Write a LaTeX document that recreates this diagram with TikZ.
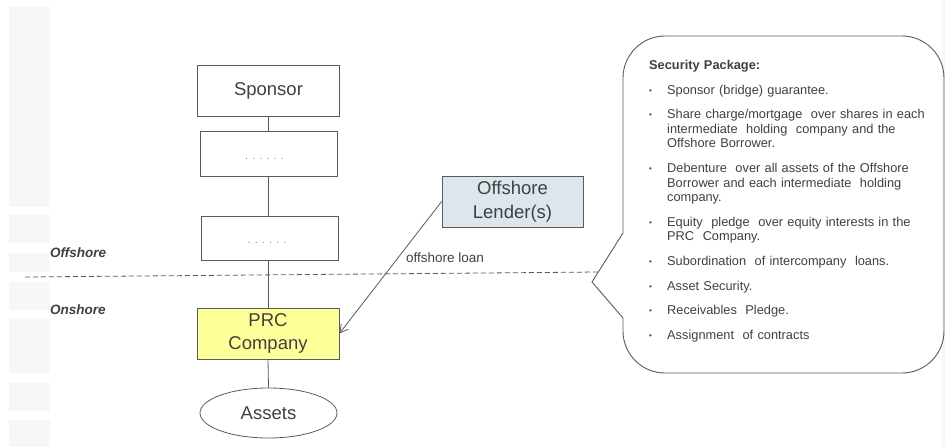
\documentclass[tikz,border=0pt]{standalone}
\usepackage{fontspec}
\setmainfont{Liberation Sans}
\usetikzlibrary{shapes.geometric,arrows.meta}

\definecolor{ink}{HTML}{404040}
\definecolor{edge}{HTML}{5A5A5A}
\definecolor{prcfill}{HTML}{FFFF99}
\definecolor{lenderfill}{HTML}{DCE6EC}
\definecolor{stripgray}{HTML}{F7F7F7}
\definecolor{dotgray}{HTML}{8A8A8A}

% one bulleted entry of the security list, with a hanging indent
\newcommand\pkgitem[1]{\par\hangindent=18pt\hangafter=1\noindent
  \makebox[18pt][l]{\raisebox{1pt}{\fontsize{8}{8}\selectfont\textbullet}}#1}
% line break that keeps the hanging indent of the entry
\newcommand\nl{\hfil\break}

\begin{document}
\begin{tikzpicture}[x=1pt,y=-1pt,
  entity/.style={draw=edge, line width=0.8pt, inner sep=0pt, text=ink,
    align=center, font=\fontsize{18.5}{23.5}\selectfont},
  filler/.style={font=\fontsize{11}{11}\selectfont, text=dotgray, inner sep=0pt},
  link/.style={draw=edge, line width=0.8pt},
  loan/.style={draw=edge, line width=0.8pt, -{Straight Barb[length=8pt,width=9pt]}},
  zone/.style={font=\fontsize{13.5}{13.5}\selectfont\bfseries\itshape, text=ink,
    inner sep=0pt, anchor=west},
  bubble/.style={draw=edge, line width=0.9pt},
  pkgtext/.style={text=ink, inner sep=0pt, anchor=north west, text width=290pt,
    font=\fontsize{12.8}{14.6}\selectfont, execute at begin node={\setlength{\parskip}{10pt}}}
]
\useasboundingbox (0,0) rectangle (945,447);

% pale page strips along the edges
\foreach \ya/\yb in {7/207, 215/243, 253/272, 282/310, 318/373, 383/411, 420/447}
  \fill[stripgray] (9,\ya) rectangle (50,\yb);
\fill[stripgray] (942,0) rectangle (945,447);

% ownership chain
\node[entity, minimum width=142pt, minimum height=51pt] (sponsor) at (268.5,90.5) {Sponsor};
\node[entity, minimum width=137pt, minimum height=45pt] (mid1) at (268.5,153.5) {};
\node[entity, minimum width=137pt, minimum height=44pt] (mid2) at (270,238) {};
\node[entity, minimum width=142pt, minimum height=51pt, fill=prcfill] (prc) at (268,333.5) {PRC\\Company};
\node[entity, ellipse, minimum width=137pt, minimum height=50pt] (assets) at (268.5,413) {Assets};

\node[filler] (dots1) at ([xshift=-4pt,yshift=-5pt]mid1.center) {. . . . . .};
\node[filler] (dots2) at ([xshift=-3pt,yshift=-5pt]mid2.center) {. . . . . .};

\draw[link] (sponsor.south) -- (sponsor.south |- mid1.north);
\draw[link] (mid1.south) -- (mid1.south |- mid2.north);
\draw[link] (mid1.south |- mid2.south) -- (mid1.south |- prc.north);
\draw[link] (prc.south) -- (assets.north);

% lender and loan
\node[entity, minimum width=141pt, minimum height=51pt, fill=lenderfill] (lender) at (512.5,201.5) {Offshore\\Lender(s)};
\draw[loan] (lender.west) -- (prc.east);
\node[text=ink, inner sep=0pt, font=\fontsize{13.5}{13.5}\selectfont] (loanlbl) at (445,258) {offshore loan};

% offshore / onshore divide
\node[zone] (offlbl) at (50,253) {Offshore};
\node[zone] (onlbl) at (50,310) {Onshore};

% security package call-out
\coordinate (ptop) at (623,233);
\coordinate (pbot) at (623,318);
\coordinate (tip) at (592,282);
\coordinate (divL) at (25,277);
\coordinate (divR) at (598,272);
\draw[edge, line width=0.8pt, dash pattern=on 5pt off 3pt] (divL) -- (divR);
\draw[bubble, rounded corners=42pt] (ptop) -- (623,36) -- (944,36) -- (944,373) -- (623,373) -- (pbot);
\draw[bubble, line join=miter] (pbot) -- (tip) -- (ptop);

\node[pkgtext] (pkg) at (649,60) {%
\noindent\textbf{Security Package:}
\pkgitem{Sponsor (bridge) guarantee.}
\pkgitem{Share charge/mortgage\ \ over shares in each\nl intermediate\ \ holding\ \ company and the\nl Offshore Borrower.}
\pkgitem{Debenture\ \ over all assets of the Offshore\nl Borrower and each intermediate\ \ holding\nl company.}
\pkgitem{Equity\ \ pledge\ \ over equity interests in the\nl PRC\ \ Company.}
\pkgitem{Subordination\ \ of intercompany\ \ loans.}
\pkgitem{Asset Security.}
\pkgitem{Receivables\ \ Pledge.}
\pkgitem{Assignment\ \ of contracts}\par};
\end{tikzpicture}
\end{document}
